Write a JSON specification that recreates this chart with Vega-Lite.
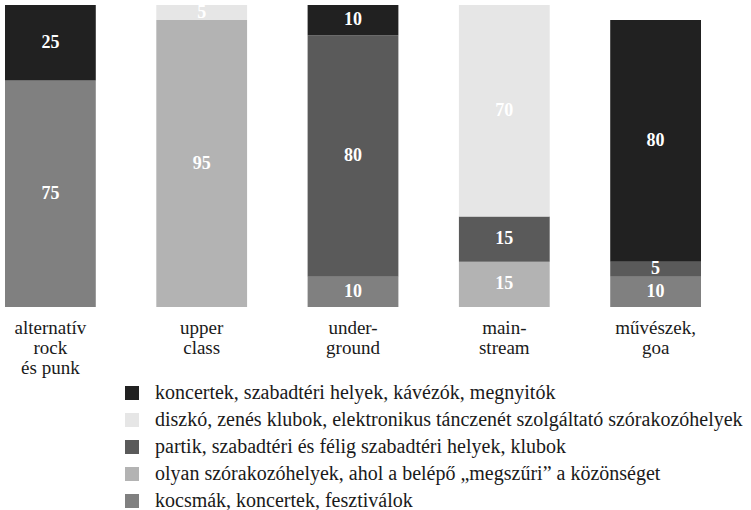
{
  "$schema": "https://vega.github.io/schema/vega-lite/v6.json",
  "width": 696,
  "height": 302,
  "autosize": "none",
  "padding": {"left": 5, "top": 5, "right": 50, "bottom": 203},
  "background": "white",
  "config": {"view": {"stroke": null}, "font": "Liberation Serif"},
  "data": {"values": [
    {"cat": "alternatív|rock|és punk", "group": "kocsmák, koncertek, fesztiválok", "value": 75, "ord": 1},
    {"cat": "alternatív|rock|és punk", "group": "koncertek, szabadtéri helyek, kávézók, megnyitók", "value": 25, "ord": 5},
    {"cat": "upper|class", "group": "olyan szórakozóhelyek, ahol a belépő „megszűri” a közönséget", "value": 95, "ord": 2},
    {"cat": "upper|class", "group": "diszkó, zenés klubok, elektronikus tánczenét szolgáltató szórakozóhelyek", "value": 5, "ord": 4},
    {"cat": "under-|ground", "group": "kocsmák, koncertek, fesztiválok", "value": 10, "ord": 1},
    {"cat": "under-|ground", "group": "partik, szabadtéri és félig szabadtéri helyek, klubok", "value": 80, "ord": 3},
    {"cat": "under-|ground", "group": "koncertek, szabadtéri helyek, kávézók, megnyitók", "value": 10, "ord": 5},
    {"cat": "main-|stream", "group": "olyan szórakozóhelyek, ahol a belépő „megszűri” a közönséget", "value": 15, "ord": 2},
    {"cat": "main-|stream", "group": "partik, szabadtéri és félig szabadtéri helyek, klubok", "value": 15, "ord": 3},
    {"cat": "main-|stream", "group": "diszkó, zenés klubok, elektronikus tánczenét szolgáltató szórakozóhelyek", "value": 70, "ord": 4},
    {"cat": "művészek,|goa", "group": "kocsmák, koncertek, fesztiválok", "value": 10, "ord": 1},
    {"cat": "művészek,|goa", "group": "partik, szabadtéri és félig szabadtéri helyek, klubok", "value": 5, "ord": 3},
    {"cat": "művészek,|goa", "group": "koncertek, szabadtéri helyek, kávézók, megnyitók", "value": 80, "ord": 5}
  ]},
  "transform": [
    {"stack": "value", "groupby": ["cat"], "sort": [{"field": "ord", "order": "ascending"}], "as": ["v0", "v1"]},
    {"calculate": "(datum.v0 + datum.v1) / 2", "as": "mid"}
  ],
  "encoding": {
    "x": {
      "field": "cat",
      "type": "nominal",
      "sort": ["alternatív|rock|és punk", "upper|class", "under-|ground", "main-|stream", "művészek,|goa"],
      "scale": {"paddingInner": 0.4, "paddingOuter": 0},
      "axis": {
        "title": null,
        "domain": false,
        "ticks": false,
        "labelAngle": 0,
        "labelExpr": "split(datum.label, '|')",
        "labelFontSize": 19,
        "labelLineHeight": 20,
        "labelPadding": 11,
        "labelColor": "#1a1a1a",
        "labelFont": "Liberation Serif"
      }
    }
  },
  "layer": [
    {
      "mark": {"type": "bar"},
      "encoding": {
        "y": {"field": "v0", "type": "quantitative", "scale": {"domain": [0, 100]}, "axis": null},
        "y2": {"field": "v1"},
        "color": {
          "field": "group",
          "type": "nominal",
          "scale": {
            "domain": [
              "koncertek, szabadtéri helyek, kávézók, megnyitók",
              "diszkó, zenés klubok, elektronikus tánczenét szolgáltató szórakozóhelyek",
              "partik, szabadtéri és félig szabadtéri helyek, klubok",
              "olyan szórakozóhelyek, ahol a belépő „megszűri” a közönséget",
              "kocsmák, koncertek, fesztiválok"
            ],
            "range": ["#212121", "#e6e6e6", "#5a5a5a", "#b3b3b3", "#808080"]
          },
          "legend": {
            "title": null,
            "orient": "none",
            "legendX": 117,
            "legendY": 378,
            "padding": 0,
            "symbolType": "square",
            "symbolSize": 196,
            "symbolStrokeWidth": 0,
            "symbolOpacity": 1,
            "labelFontSize": 20,
            "labelFont": "Liberation Serif",
            "labelColor": "#1a1a1a",
            "labelOffset": 13,
            "labelLimit": 700,
            "rowPadding": 7
          }
        }
      }
    },
    {
      "mark": {"type": "text", "color": "white", "fontWeight": "bold", "fontSize": 18, "font": "Liberation Serif", "baseline": "middle"},
      "encoding": {
        "y": {"field": "mid", "type": "quantitative", "scale": {"domain": [0, 100]}},
        "text": {"field": "value", "type": "quantitative"}
      }
    }
  ]
}
